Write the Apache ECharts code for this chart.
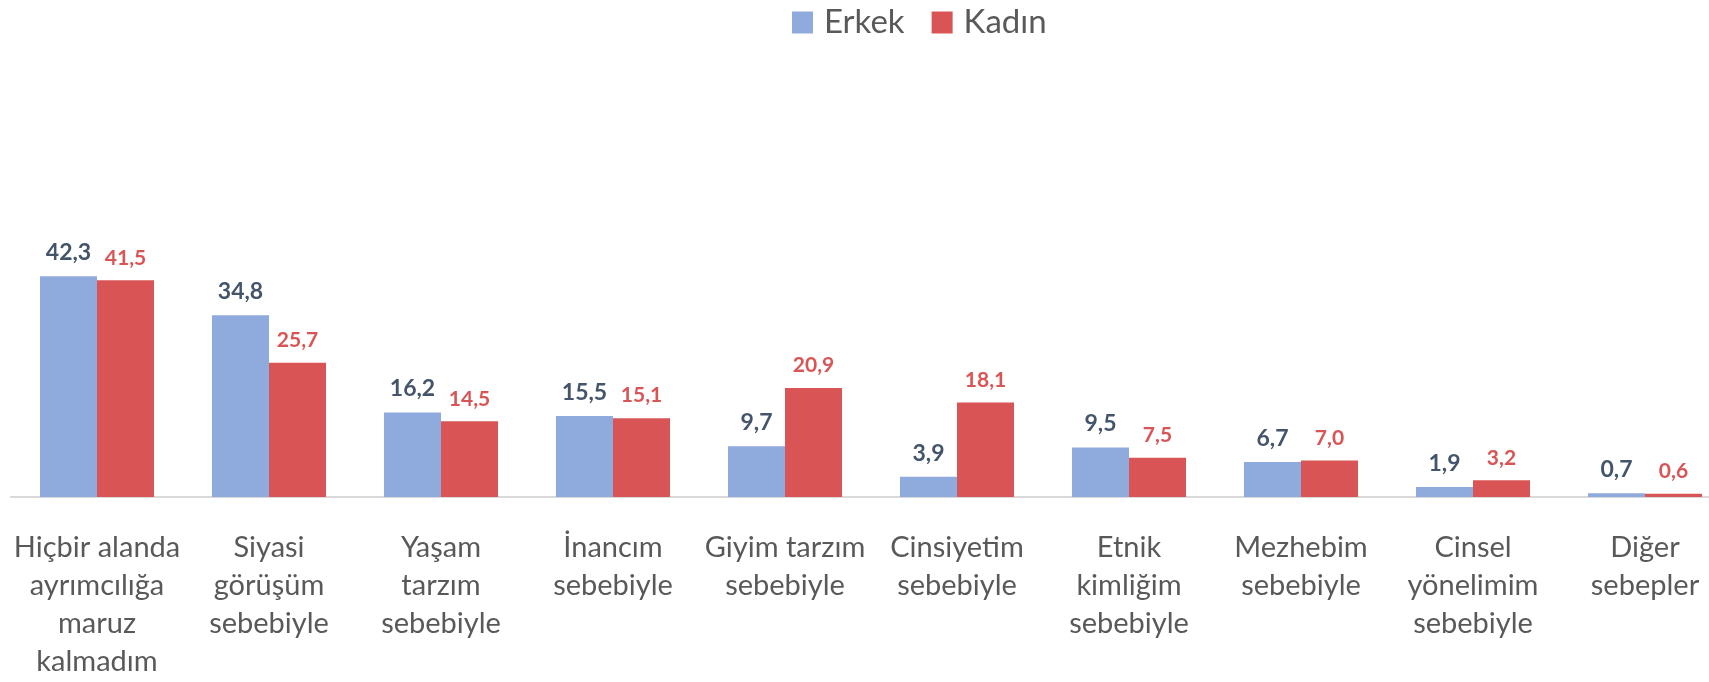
<!DOCTYPE html>
<html>
<head>
<meta charset="utf-8">
<script src="https://cdn.jsdelivr.net/npm/echarts@6/dist/echarts.min.js"></script>
<style>
html,body{margin:0;padding:0;background:#fff;}
#chart{width:1709px;height:682px;}
</style>
</head>
<body>
<div id="chart"></div>
<script>
var categories = [
	"Hiçbir alanda\nayrımcılığa\nmaruz\nkalmadım",
	"Siyasi\ngörüşüm\nsebebiyle",
	"Yaşam\ntarzım\nsebebiyle",
	"İnancım\nsebebiyle",
	"Giyim tarzım\nsebebiyle",
	"Cinsiyetim\nsebebiyle",
	"Etnik\nkimliğim\nsebebiyle",
	"Mezhebim\nsebebiyle",
	"Cinsel\nyönelimim\nsebebiyle",
	"Diğer\nsebepler"
];
var erkek = [42.3, 34.8, 16.2, 15.5, 9.7, 3.9, 9.5, 6.7, 1.9, 0.7];
var kadin = [41.5, 25.7, 14.5, 15.1, 20.9, 18.1, 7.5, 7.0, 3.2, 0.6];

var fontName = 'Lato';

function fmt(p) {
	return p.value.toFixed(1).replace('.', ',');
}

var myChart = echarts.init(document.getElementById('chart'));
var option = {
	animation: false,
	legend: {
		left: 787,
		top: 1,
		itemWidth: 21,
		itemHeight: 22,
		itemGap: 27,
		icon: 'rect',
		textStyle: {
			color: '#595959',
			fontSize: 33,
			fontFamily: fontName,
			padding: [0, 0, 0, 6]
		},
		data: ['Erkek', 'Kadın']
	},
	grid: {
		left: 11,
		width: 1720,
		top: 236,
		bottom: 185,
		outerBoundsMode: 'none'
	},
	xAxis: {
		type: 'category',
		data: categories,
		axisLine: { lineStyle: { color: '#d9d9d9', width: 2 } },
		axisTick: { show: false },
		axisLabel: {
			interval: 0,
			margin: 32,
			color: '#595959',
			fontSize: 29,
			lineHeight: 38,
			fontFamily: fontName
		}
	},
	yAxis: {
		type: 'value',
		min: 0,
		max: 50,
		show: false,
		splitLine: { show: false }
	},
	series: [{
		name: 'Erkek',
		type: 'bar',
		data: erkek,
		barGap: '0%',
		barCategoryGap: '33.7%',
		itemStyle: { color: '#8FAADC' },
		label: {
			show: true,
			position: 'top',
			distance: 12,
			formatter: fmt,
			color: '#44546A',
			fontWeight: 'bold',
			fontSize: 23,
			fontFamily: fontName
		}
	}, {
		name: 'Kadın',
		type: 'bar',
		data: kadin,
		barGap: '0%',
		barCategoryGap: '33.7%',
		itemStyle: { color: '#D95555' },
		label: {
			show: true,
			position: 'top',
			distance: 12,
			formatter: fmt,
			color: '#D95555',
			fontWeight: 'bold',
			fontSize: 21,
			fontFamily: fontName
		}
	}]
};
myChart.setOption(option);
</script>
</body>
</html>
